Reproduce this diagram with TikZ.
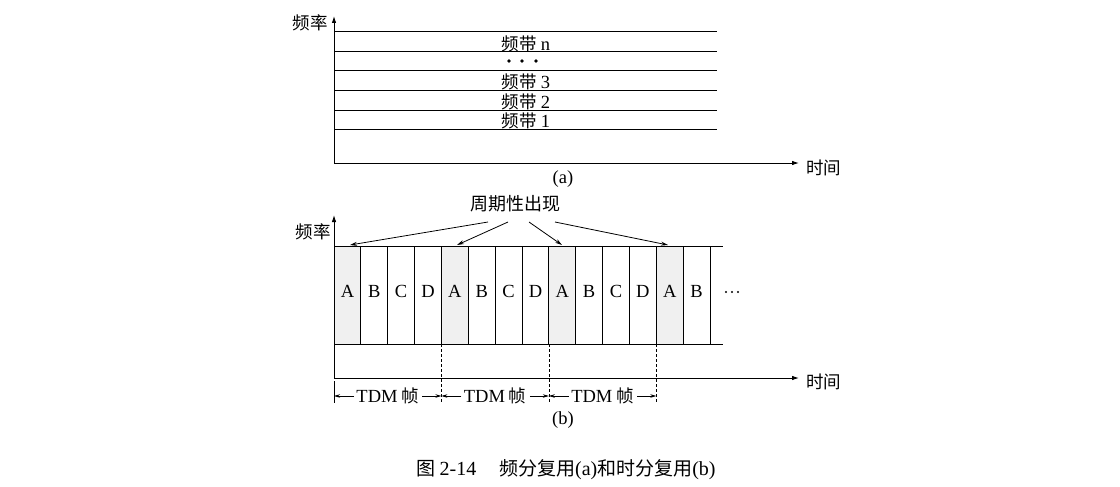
\documentclass[tikz,border=0pt]{standalone}
\usepackage{fontspec}
\setmainfont{Liberation Serif}
\newfontfamily\cjk{Noto Sans CJK SC}
\newfontfamily\lat{Liberation Serif}
\usetikzlibrary{arrows.meta}
\begin{document}
\begin{tikzpicture}[x=1pt,y=-1pt,line width=0.8pt,
  lbl/.style={font=\fontsize{18.5}{21}\selectfont,inner sep=0pt},
  cj/.style={font=\fontsize{17.5}{20}\selectfont\cjk,inner sep=0pt},
  axis/.style={line width=0.9pt,-{Latex[length=7pt,width=4.5pt]}},
  band/.style={line width=0.8pt},
  callout/.style={line width=0.8pt,-{Stealth[length=7pt,width=4pt]}},
  dim/.style={line width=0.7pt,-{Stealth[length=6pt,width=3.5pt]}},
  guide/.style={line width=0.7pt,dashed,dash pattern=on 3pt off 2pt},
  shadeA/.style={fill=black!6,draw=none}]
\useasboundingbox (0,0) rectangle (1120,487);

% ---------- (a) ----------
\coordinate (oa) at (334,163);
\coordinate (ya) at (334,16);
\coordinate (xa) at (799,163);
\foreach \y [count=\i] in {31,51,70,90,110,129}{
  \coordinate (bl\i) at (334,\y);
  \coordinate (br\i) at (717,\y);
  \draw[band] (bl\i) -- (br\i);
}
\draw[axis] (oa) -- (ya);
\draw[axis] (oa) -- (xa);
\node[cj] (fa) at (310,23) {频率};
\node[cj,anchor=west] (ta) at (806,168) {时间};
\node[cj] (bn) at (526,44) {频带 {\lat\fontsize{18.5}{21}\selectfont n}};
\node[cj] (b3) at (526,82) {频带 {\lat\fontsize{18.5}{21}\selectfont 3}};
\node[cj] (b2) at (526,102) {频带 {\lat\fontsize{18.5}{21}\selectfont 2}};
\node[cj] (b1) at (526,121) {频带 {\lat\fontsize{18.5}{21}\selectfont 1}};
\foreach \x [count=\i] in {509,522,536}{
  \fill (\x,61) circle[radius=1.8pt];
}
\node[lbl] (capa) at (563,179) {(a)};

% ---------- (b) ----------
\def\w{26.857}
\foreach \k in {0,4,8,12}{
  \fill[shadeA] (334+\k*\w,246) rectangle (334+\k*\w+\w,344);
}
\coordinate (tl) at (334,246);
\coordinate (tr) at (723,246);
\coordinate (bbl) at (334,344);
\coordinate (bbr) at (723,344);
\draw[band] (tl) -- (tr);
\draw[band] (bbl) -- (bbr);
\foreach \k in {1,...,14}{
  \draw[band] (334+\k*\w,246) -- (334+\k*\w,344);
}
\foreach \k/\t [count=\i] in {0/A,1/B,2/C,3/D,4/A,5/B,6/C,7/D,8/A,9/B,10/C,11/D,12/A,13/B}{
  \node[lbl] (s\i) at (334+\k*\w+\w/2,291) {\t};
}
\foreach \x in {726,732,738}{
  \fill (\x,292) circle[radius=1.2pt];
}

\coordinate (ob) at (334,378);
\coordinate (yb) at (334,215);
\coordinate (xb) at (799,378);
\draw[axis] (ob) -- (yb);
\draw[axis] (ob) -- (xb);
\node[cj] (fb) at (313,232) {频率};
\node[cj,anchor=west] (tb) at (806,382) {时间};

% guides
\coordinate (g0t) at (334,381);
\coordinate (g0b) at (334,403);
\draw[line width=0.7pt] (g0t) -- (g0b);
\foreach \k [count=\i] in {4,8,12}{
  \coordinate (g\i t) at (334+\k*\w,344);
  \coordinate (g\i b) at (334+\k*\w,403);
  \draw[guide] (g\i t) -- (g\i b);
}
% TDM frames
\foreach \k [count=\i] in {0,4,8}{
  \node[cj] (tdm\i) at (334+\k*\w+2*\w,396) {{\lat\fontsize{18.5}{21}\selectfont TDM} 帧};
  \coordinate (dl\i) at (334+\k*\w,396);
  \coordinate (dr\i) at (334+\k*\w+4*\w,396);
  \draw[dim] ([xshift=-2pt]tdm\i.west) -- (dl\i);
  \draw[dim] ([xshift=3pt]tdm\i.east) -- (dr\i);
}
\node[lbl] (capb) at (563,420) {(b)};

% periodic callout
\node[cj,font=\fontsize{18}{20}\selectfont\cjk] (per) at (515,204) {周期性出现};
\coordinate (p1) at (488,222);
\coordinate (p2) at (508,222);
\coordinate (p3) at (529,222);
\coordinate (p4) at (555,222);
\coordinate (q1) at (350,245);
\coordinate (q2) at (457,245);
\coordinate (q3) at (562,245);
\coordinate (q4) at (668,245);
\foreach \i in {1,2,3,4}{
  \draw[callout] (p\i) -- (q\i);
}

% caption
\node[font=\fontsize{19}{22}\selectfont\cjk,inner sep=0pt] (cap) at (566,470) {图 {\lat\fontsize{20}{22}\selectfont 2-14}\hspace{1.2em}频分复用{\lat\fontsize{20}{22}\selectfont (a)}和时分复用{\lat\fontsize{20}{22}\selectfont (b)}};
\end{tikzpicture}
\end{document}
